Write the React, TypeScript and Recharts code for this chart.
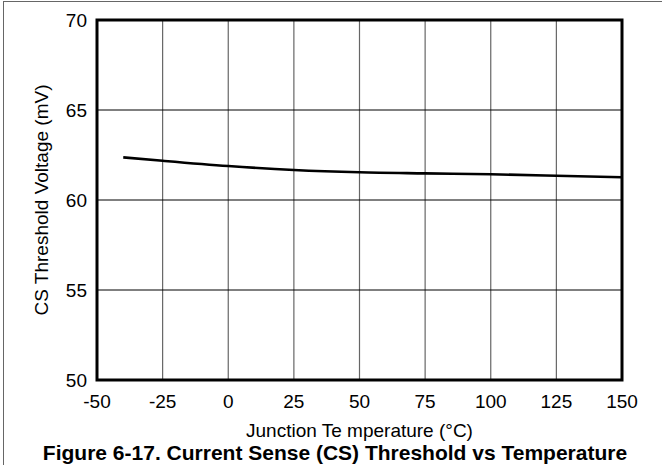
import React from 'react';
import {
    LineChart,
    Line,
    XAxis,
    YAxis,
    CartesianGrid,
    ReferenceArea,
} from 'recharts';

// values
const temperatures = [-40, -25, 0, 25, 50, 75, 100, 125, 150];
const thresholdMv = [62.37, 62.18, 61.89, 61.67, 61.54, 61.48, 61.43, 61.35, 61.26];

const xTicks = [-50, -25, 0, 25, 50, 75, 100, 125, 150];
const yTicks = [50, 55, 60, 65, 70];

const xLabel = 'Junction Te mperature (°C)';
const yLabel = 'CS Threshold Voltage (mV)';
const caption = 'Figure 6-17. Current Sense (CS) Threshold vs Temperature';

const FONT = '"Liberation Sans", Arial, sans-serif';

const data = temperatures.map((t, i) => ({ temp: t, cs: thresholdMv[i] }));

const tickStyle = { fill: '#000', fontFamily: FONT, fontSize: 19 };

export default function App() {
    return (
        <div
            style={{
                position: 'absolute',
                left: 0,
                top: 0,
                width: 662,
                height: 465,
                overflow: 'hidden',
                background: '#fff',
            }}
        >
            {/* page frame, only left and top edges show */}
            <div
                style={{
                    position: 'absolute',
                    left: 3,
                    top: 1,
                    width: 700,
                    height: 500,
                    borderLeft: '1px solid #666',
                    borderTop: '1px solid #666',
                }}
            />
            <LineChart
                width={662}
                height={465}
                data={data}
                margin={{ top: 20, right: 40, left: 0, bottom: 0 }}
                style={{ position: 'absolute', left: 0, top: 0 }}
            >
                <CartesianGrid horizontal={false} stroke="#666" strokeWidth={1.2} />
                <CartesianGrid vertical={false} stroke="#000" strokeWidth={1} />
                <XAxis
                    dataKey="temp"
                    type="number"
                    domain={[-50, 150]}
                    ticks={xTicks}
                    allowDataOverflow
                    axisLine={false}
                    tickLine={false}
                    tickSize={0}
                    tickMargin={15}
                    height={85}
                    tick={tickStyle}
                    interval={0}
                    label={{
                        value: xLabel,
                        position: 'insideTop',
                        offset: 44,
                        fill: '#000',
                        fontFamily: FONT,
                        fontSize: 19,
                    }}
                />
                <YAxis
                    type="number"
                    domain={[50, 70]}
                    ticks={yTicks}
                    allowDataOverflow
                    axisLine={false}
                    tickLine={false}
                    tickSize={0}
                    tickMargin={10}
                    width={97}
                    tick={tickStyle}
                    interval={0}
                    label={{
                        value: yLabel,
                        angle: -90,
                        position: 'center',
                        dx: -7,
                        fill: '#000',
                        fontFamily: FONT,
                        fontSize: 19,
                    }}
                />
                <Line
                    type="monotone"
                    dataKey="cs"
                    stroke="#000"
                    strokeWidth={2.6}
                    dot={false}
                    activeDot={false}
                    isAnimationActive={false}
                />
                <ReferenceArea
                    x1={-50}
                    x2={150}
                    y1={50}
                    y2={70}
                    fill="none"
                    stroke="#000"
                    strokeWidth={3}
                    ifOverflow="visible"
                />
            </LineChart>
            <div
                style={{
                    position: 'absolute',
                    left: 40,
                    top: 441,
                    width: 590,
                    textAlign: 'center',
                    fontFamily: FONT,
                    fontWeight: 'bold',
                    fontSize: 21,
                    whiteSpace: 'nowrap',
                    color: '#000',
                }}
            >
                {caption}
            </div>
        </div>
    );
}
